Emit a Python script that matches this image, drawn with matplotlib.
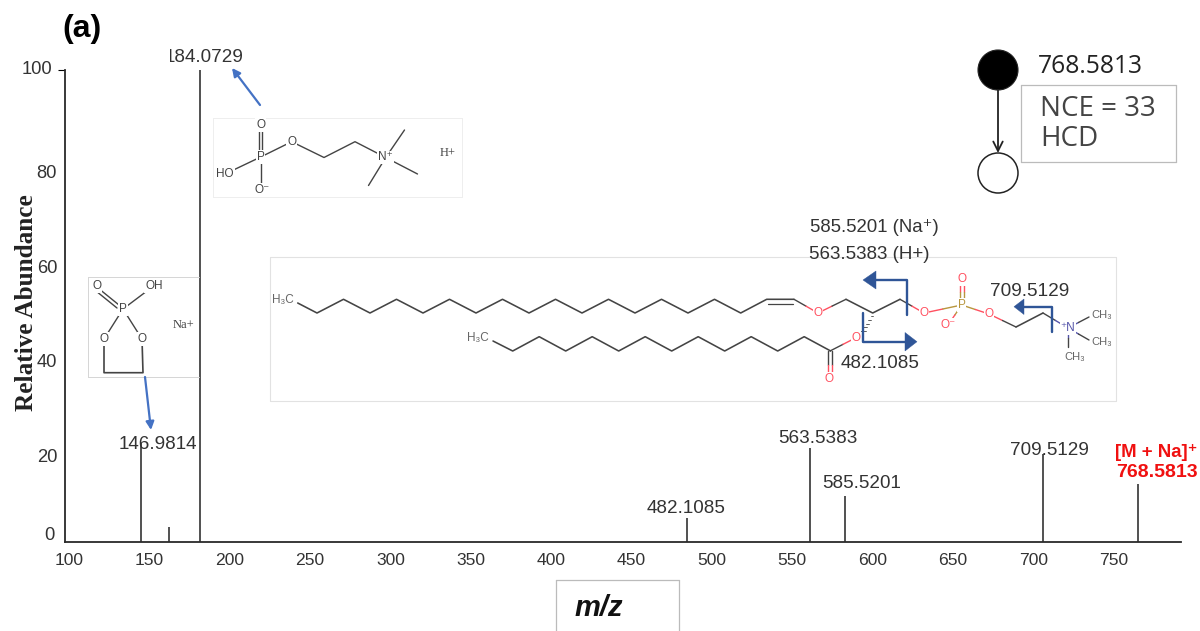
import matplotlib
matplotlib.use("Agg")
import matplotlib.pyplot as plt
from matplotlib.patches import Circle, Polygon
from matplotlib.transforms import Bbox, ScaledTranslation

# ---------- chart data ----------
peak_mz = [145, 162, 181.5, 484.5, 561, 583, 706, 765]
peak_abundance = [21, 3.2, 100, 5, 20, 9.7, 18.7, 12.3]
peak_labels = ["146.9814", "", "184.0729", "482.1085", "563.5383", "585.5201", "709.5129", "768.5813"]
x_ticks = [100, 150, 200, 250, 300, 350, 400, 450, 500, 550, 600, 650, 700, 750]
y_ticks = [0, 20, 40, 60, 80, 100]

W, H = 1200, 631
SANS = ["Liberation Sans", "DejaVu Sans"]
DARK = "#333333"
plt.rcParams["font.family"] = SANS

fig = plt.figure(figsize=(W / 100, H / 100), dpi=100, facecolor="white")

L, R, T, B = 65, 1181, 70, 542
ax = fig.add_axes([L / W, 1 - B / H, (R - L) / W, (B - T) / H])
ax.set_xlim(97.5, 792)
ax.set_ylim(0, 100)
for s in ("top", "right"):
    ax.spines[s].set_visible(False)
for s in ("left", "bottom"):
    ax.spines[s].set_linewidth(1.3)
    ax.spines[s].set_color("#2a2a2a")
ax.vlines(peak_mz, 0, peak_abundance, color="#333333", lw=1.2)
ax.set_xticks(x_ticks)
ax.set_yticks(y_ticks)
ax.tick_params(axis="x", length=0, labelsize=12.6, pad=8, labelcolor=DARK)
ax.tick_params(axis="y", length=0, labelsize=13.2, pad=5, labelcolor=DARK)

# the y labels of the reference sit off their ticks
ytick_shift = {0: (-4, 8), 20: (-1, -8), 40: (-1, -7), 60: (-1, -8), 80: (-1, -7), 100: (-6, 3)}
for tick, v in zip(ax.yaxis.get_major_ticks(), y_ticks):
    dx, dy = ytick_shift[v]
    tick.label1.set_transform(tick.label1.get_transform() +
                              ScaledTranslation(dx / 100, dy / 100, fig.dpi_scale_trans))
    if v == 100:
        tick.tick1line.set_markersize(5)
        tick.tick1line.set_markeredgewidth(0.8)
        tick.tick1line.set_color("#777777")

fig.text(27 / W, 1 - 303 / H, "Relative Abundance", rotation=90, ha="center", va="center",
         fontsize=18.2, fontweight="bold", family="Liberation Serif", color="#222222")

# ---------- overlay in reference pixels ----------
ov = fig.add_axes([0, 0, 1, 1], zorder=5)
ov.set_xlim(0, W)
ov.set_ylim(H, 0)
ov.axis("off")
ov.patch.set_alpha(0)


def txt(x, y, s, size=13, color=DARK, ha="center", va="center", **kw):
    return ov.text(x, y + 1.5, s, fontsize=size, color=color, ha=ha, va=va, **kw)


def line(pts, color="#444444", lw=1.0, **kw):
    xs, ys = zip(*pts)
    ov.plot(xs, ys, color=color, lw=lw, solid_capstyle="round", solid_joinstyle="round", **kw)


def bond(a, b, c1="#444444", c2=None, lw=1.0):
    if c2 is None:
        line([a, b], c1, lw)
    else:
        m = ((a[0] + b[0]) / 2, (a[1] + b[1]) / 2)
        line([a, m], c1, lw)
        line([m, b], c2, lw)


def atom(x, y, s, color="#444444", size=8.5, **kw):
    txt(x, y - 1.5, s, size=size, color=color, zorder=4,
        bbox=dict(facecolor="white", edgecolor="none", pad=0.6), **kw)


def box(x0, y0, x1, y1, color, lw=0.8, edges="tblr"):
    if "t" in edges:
        line([(x0, y0), (x1, y0)], color, lw)
    if "b" in edges:
        line([(x0, y1), (x1, y1)], color, lw)
    if "l" in edges:
        line([(x0, y0), (x0, y1)], color, lw)
    if "r" in edges:
        line([(x1, y0), (x1, y1)], color, lw)


# panel letter
txt(82, 28, "(a)", size=23, color="black", fontweight="bold")

# peak labels
label_xy = {"146.9814": (158, 443), "184.0729": (204, 56), "482.1085": (686, 507),
            "563.5383": (818, 437), "585.5201": (862, 482), "709.5129": (1049, 449)}
for name in peak_labels:
    if name in label_xy:
        t = txt(*label_xy[name], name, size=13.6)
        if name == "184.0729":
            t.set_clip_box(Bbox([[170, 0], [400, H]]))
            t.set_clip_on(True)
txt(1156, 451, "[M + Na]\u207a", size=13.4, color="#f01010", fontweight="bold")
txt(1157, 471, peak_labels[-1], size=14, color="#f01010", fontweight="bold")

# m/z box
box(556, 580, 679, 640, "#bbbbbb", 0.9, "tlr")
txt(599, 607, "m/z", size=21, color="#111111", fontweight="bold", fontstyle="italic")

# MS/MS scheme
ov.add_patch(Circle((998, 70), 20, facecolor="black", edgecolor="#222222", lw=0.8))
ov.add_patch(Circle((998, 173), 20, facecolor="white", edgecolor="#222222", lw=1.1))
ov.annotate("", xy=(998, 153), xytext=(998, 90),
            arrowprops=dict(arrowstyle="->", color="#222222", lw=1.3, mutation_scale=17,
                            shrinkA=0, shrinkB=0))
txt(1038, 65, "768.5813", size=17.7, color="#222222", ha="left", family="Open Sans")
box(1021, 85, 1176, 162, "#bbbbbb", 0.9)
txt(1040, 108, "NCE = 33", size=20, color="#444444", ha="left", family="Open Sans")
txt(1040, 137, "HCD", size=20, color="#444444", ha="left", family="Open Sans")

# --- structure boxes ---
box(213, 118, 462, 197, "#eeeeee", 0.7)
box(88, 277, 199, 377, "#d5d5d5", 0.7, "tlb")
box(270, 257, 1116, 401, "#e2e2e2", 0.8)

# phosphocholine fragment
P1 = (260.7, 157)
bond((259.3, 131), (259.3, 152))
bond((262.3, 131), (262.3, 152))
bond(P1, (291.7, 141.7))
bond(P1, (225, 174))
bond(P1, (260.7, 190))
line([(291.7, 141.7), (324, 157.5), (355, 141.7), (385.7, 157.5)], lw=1.0)
N1 = (385.7, 157.5)
bond(N1, (404.5, 130))
bond(N1, (417.5, 174))
bond(N1, (368.5, 185.5))
atom(260.7, 125, "O")
atom(260.7, 157, "P")
atom(291.7, 141.7, "O")
atom(225, 174, "HO")
atom(261.7, 190, "O\u207b")
atom(385.7, 157.5, "N\u207a")
txt(448, 151.7, "H+", size=9, color="#444444", family="Liberation Serif")

# sodiated cyclic phosphate fragment
P2 = (123, 309)
bond((98, 288), (119, 305))
bond((96, 291), (117, 308))
bond(P2, (154, 285.7))
bond(P2, (104, 339))
bond(P2, (142, 339))
line([(104, 339), (104, 372.7), (143, 372.7), (142, 339)], lw=1.2)
atom(96.7, 285.7, "O")
atom(154, 285.7, "OH")
atom(123, 309, "P")
atom(104, 339, "O")
atom(142, 339, "O")
txt(184, 323, "Na+", size=9, color="#444444", family="Liberation Serif")

# long chains
RED = "#ff5060"
GOLD = "#b8963e"
NBLUE = "#5555aa"
chain1 = [(297.7, 303)]
cx = 317.0
up = False
while cx < 741:
    chain1.append((cx, 299.3 if up else 313))
    cx += 26.5
    up = not up
chain1 += [(740.7, 313), (766.7, 299.3), (794, 299.3)]
line(chain1, lw=1.15)
line([(768, 304), (793, 304)], lw=0.9)
bond((794, 299.3), (818, 313), "#444444", RED)
bond((818, 313), (846, 299.3), RED, "#444444")
line([(846, 299.3), (872.7, 313), (900, 299.3)], lw=1.15)
bond((900, 299.3), (924, 313), "#444444", RED)
bond((924, 313), (961.7, 305), RED, GOLD)
bond((961.7, 305), (989, 314), GOLD, RED)
bond((961.7, 305), (948, 325), GOLD, RED)
bond((960, 282), (960, 302), RED, GOLD)
bond((963.5, 282), (963.5, 302), RED, GOLD)
bond((989, 314), (1016, 327), RED, "#444444")
line([(1016, 327), (1043, 313)], lw=1.15)
bond((1043, 313), (1068, 328), "#444444", NBLUE)
bond((1068, 328), (1089, 317), NBLUE, "#444444")
bond((1068, 328), (1089, 340), NBLUE, "#444444")
bond((1068, 328), (1068, 347), NBLUE, "#444444")

chain2 = [(493, 341)]
cx = 512.7
up = False
while cx < 831:
    chain2.append((cx, 336.7 if up else 351))
    cx += 26.5
    up = not up
line(chain2, lw=1.15)
bond((830, 351), (856, 337.7), "#444444", RED)
bond((828, 351), (828, 379), "#444444", RED)
bond((832, 351), (832, 379), "#444444", RED)
for i in range(5):
    f = i / 5
    x = 872 + (858 - 872) * f * 0.8
    y = 316 + (335 - 316) * f
    line([(x - 1 - i * 0.4, y), (x + 1 + i * 0.4, y)], lw=0.6)

atom(283, 300, "H\u2083C", size=8.5, color="#666666")
atom(478, 338, "H\u2083C", size=8.5, color="#666666")
for p in [(818, 313), (924, 313), (989, 314), (961.7, 279.3), (856, 337.7), (829, 379)]:
    atom(*p, "O", color=RED)
atom(948, 325, "O\u207b", color=RED)
atom(961.7, 305, "P", color=GOLD)
atom(1068, 328, "\u207aN", color=NBLUE)
atom(1102, 315, "CH\u2083", size=8, color="#666666")
atom(1102, 341.7, "CH\u2083", size=8, color="#666666")
atom(1075, 356.7, "CH\u2083", size=8, color="#666666")

# fragmentation brackets
BL = "#2f5597"


def bracket(pts, head):
    line(pts, BL, 1.7, zorder=6)
    ov.add_patch(Polygon(head, closed=True, facecolor=BL, edgecolor=BL, lw=0.3, zorder=6))


bracket([(906.7, 315), (906.7, 280), (875, 280)], [(863, 280), (876, 271), (876, 289)])
bracket([(863, 313), (863, 341.7), (905, 341.7)], [(917, 341.7), (905, 332.5), (905, 351)])
bracket([(1051.7, 332), (1051.7, 306.7), (1024, 306.7)], [(1014, 306.7), (1024, 299), (1024, 314.5)])

txt(810, 226, "585.5201 (Na\u207a)", size=13.4, ha="left", zorder=7)
txt(809, 253, "563.5383 (H+)", size=13.5, ha="left", zorder=7)
txt(1030, 290, "709.5129", size=13.7, zorder=7)
txt(880, 362, "482.1085", size=13.6, zorder=7)

# blue pointers
for start, end in [((260, 105), (232, 68)), ((145, 377), (151, 430))]:
    ov.annotate("", xy=end, xytext=start,
                arrowprops=dict(arrowstyle="-|>", color="#4472c4", lw=1.6, mutation_scale=12,
                                shrinkA=0, shrinkB=0))

fig.savefig("out.png", dpi=100, facecolor="white")
